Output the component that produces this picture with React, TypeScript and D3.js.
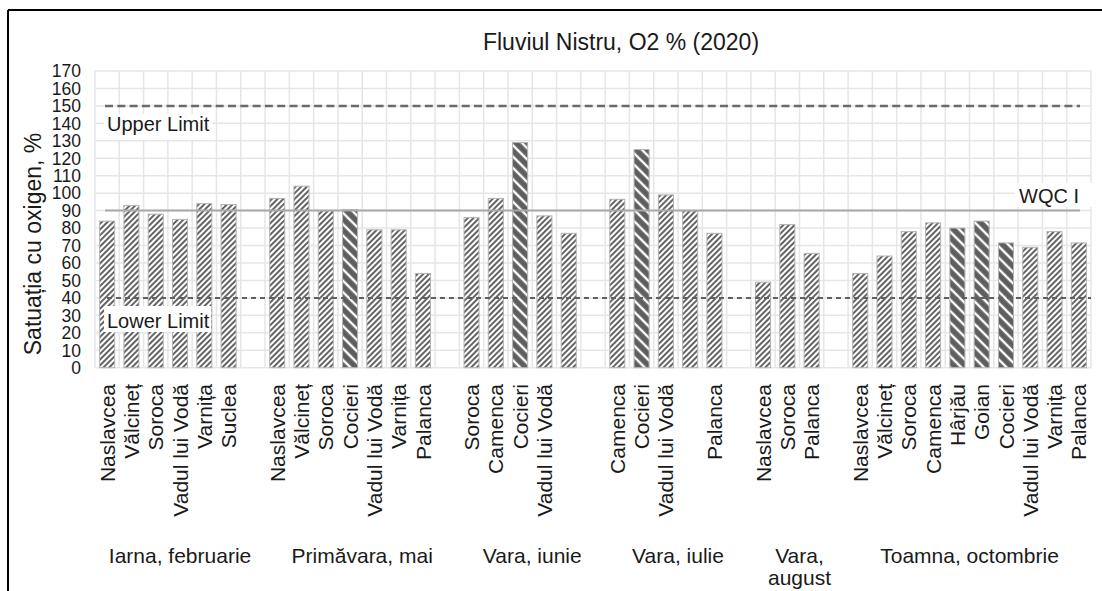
import * as d3 from 'd3'

const title = 'Fluviul Nistru, O2 % (2020)'
const yLabel = 'Satuația cu oxigen, %'

// seasons (sampling campaigns), each followed by an empty slot except the last
const groups = ['Iarna, februarie', 'Primăvara, mai', 'Vara, iunie', 'Vara, iulie', 'Vara, august', 'Toamna, octombrie']

const stations = [
  ['Naslavcea', 'Vălcineț', 'Soroca', 'Vadul lui Vodă', 'Varnița', 'Suclea'],
  ['Naslavcea', 'Vălcineț', 'Soroca', 'Cocieri', 'Vadul lui Vodă', 'Varnița', 'Palanca'],
  ['Soroca', 'Camenca', 'Cocieri', 'Vadul lui Vodă', ''],
  ['Camenca', 'Cocieri', 'Vadul lui Vodă', '', 'Palanca'],
  ['Naslavcea', 'Soroca', 'Palanca'],
  ['Naslavcea', 'Vălcineț', 'Soroca', 'Camenca', 'Hârjău', 'Goian', 'Cocieri', 'Vadul lui Vodă', 'Varnița', 'Palanca'],
]

const values = [
  [84, 93, 88, 85, 94, 93.5],
  [97, 104, 90, 90.5, 79, 79, 54],
  [86, 97, 129, 87, 77],
  [96.5, 125, 99, 90, 77],
  [49, 82, 65.5],
  [54, 64, 78, 83, 80, 84, 71.5, 69, 78, 71.5],
]

// bars drawn with the dark wide hatch
const darkStations = ['Cocieri', 'Hârjău', 'Goian']

const yTicks = d3.range(0, 171, 10)
const upperLimit = 150
const lowerLimit = 40
const wqc = 90

const W = 1102
const H = 591
const left = 95
const right = 1091
const top = 71
const bottom = 367.7

export default function App() {
  // flatten into slots, with a gap after every group but the last
  const slots: { label: string; value: number | null; group: number; dark: boolean }[] = []
  groups.forEach((g, gi) => {
    stations[gi].forEach((s, i) => {
      slots.push({ label: s, value: values[gi][i], group: gi, dark: darkStations.includes(s) })
    })
    if (gi < groups.length - 1) slots.push({ label: '', value: null, group: gi, dark: false })
  })

  const x = d3.scaleBand<number>()
    .domain(slots.map((_, i) => i))
    .range([left, right])
    .paddingInner(0.38)
    .paddingOuter(0.19)
  const step = x.step()
  const y = d3.scaleLinear().domain([0, 170]).range([bottom, top])

  const font = 'Arial, "Liberation Sans", sans-serif'

  // group label centres span the group incl. its trailing gap
  const groupSpans = groups.map((g, gi) => {
    const idx = slots.map((s, i) => (s.group === gi ? i : -1)).filter(i => i >= 0)
    const x0 = left + idx[0] * step
    const x1 = left + (idx[idx.length - 1] + 1) * step
    return { name: g, cx: (x0 + x1) / 2 }
  })

  return (
    <svg width={W} height={H} style={{ position: 'absolute', left: 0, top: 0, background: '#fff' }} fontFamily={font}>
      <defs>
        <pattern id="light" width="4" height="4" patternUnits="userSpaceOnUse" patternTransform="rotate(45)">
          <rect width="4" height="4" fill="#fff" />
          <line x1="1" y1="0" x2="1" y2="4" stroke="#5c5c5c" strokeWidth="1.9" />
        </pattern>
        <pattern id="dark" width="8" height="8" patternUnits="userSpaceOnUse" patternTransform="rotate(-45)">
          <rect width="8" height="8" fill="#5e5e5e" />
          <line x1="4" y1="0" x2="4" y2="8" stroke="#fff" strokeWidth="2.4" />
        </pattern>
      </defs>

      {/* frame */}
      <line x1={8} y1={10} x2={W} y2={10} stroke="#000" strokeWidth={2} />
      <line x1={8} y1={10} x2={8} y2={H} stroke="#000" strokeWidth={2} />

      <text x={621} y={50} textAnchor="middle" fontSize={23} fill="#1a1a1a">{title}</text>

      {/* grid */}
      {yTicks.map(t => (
        <line key={'h' + t} x1={left} x2={right} y1={y(t)} y2={y(t)} stroke="#e6e6e6" strokeWidth={1.5} />
      ))}
      {d3.range(slots.length + 1).map(i => (
        <line key={'v' + i} x1={left + i * step} x2={left + i * step} y1={y(170)} y2={y(0)} stroke="#e6e6e6" strokeWidth={1.5} />
      ))}

      {/* y axis */}
      {yTicks.map(t => (
        <text key={'t' + t} x={81} y={y(t)} dy="0.36em" textAnchor="end" fontSize={17.5} fill="#1a1a1a">{t}</text>
      ))}
      <text transform={`translate(41,244) rotate(-90)`} textAnchor="middle" fontSize={23} fill="#1a1a1a">{yLabel}</text>

      {/* bars */}
      {slots.map((s, i) => s.value === null ? null : (
        <rect key={'b' + i} x={x(i)} y={y(s.value)} width={x.bandwidth()} height={y(0) - y(s.value)}
          fill={s.dark ? 'url(#dark)' : 'url(#light)'} stroke="#b4b4b4" strokeWidth={1} />
      ))}

      {/* reference lines */}
      <line x1={left + 10} x2={right - 11} y1={y(wqc)} y2={y(wqc)} stroke="#a8a8a8" strokeWidth={2} />
      <line x1={left + 10} x2={right - 11} y1={y(upperLimit)} y2={y(upperLimit)} stroke="#6a6a6a" strokeWidth={2.5} strokeDasharray="8,4.3" />
      <line x1={left + 12} x2={right} y1={y(lowerLimit)} y2={y(lowerLimit)} stroke="#606060" strokeWidth={2} strokeDasharray="5,4" />

      <rect x={104} y={y(upperLimit) + 8} width={108} height={26} fill="#fff" />
      <text x={107} y={131} fontSize={20} fill="#1a1a1a">Upper Limit</text>
      <rect x={104} y={306} width={107} height={26} fill="#fff" />
      <text x={107} y={327.5} fontSize={20} fill="#1a1a1a">Lower Limit</text>
      <rect x={1014} y={183} width={78} height={24} fill="#fff" />
      <text x={1019} y={202.5} fontSize={20} fill="#1a1a1a">WQC I</text>

      {/* station labels */}
      {slots.map((s, i) => s.label ? (
        <text key={'l' + i} transform={`translate(${x(i)! + x.bandwidth() / 2},384) rotate(-90)`}
          textAnchor="end" dy="0.36em" fontSize={21} fill="#1a1a1a">{s.label}</text>
      ) : null)}

      {/* group labels */}
      {groupSpans.map(g => {
        const lines = g.name === 'Vara, august' ? ['Vara,', 'august'] : [g.name]
        return (
          <text key={g.name} x={g.cx} y={563} textAnchor="middle" fontSize={21} fill="#1a1a1a">
            {lines.map((l, k) => <tspan key={k} x={g.cx} dy={k === 0 ? 0 : 22}>{l}</tspan>)}
          </text>
        )
      })}
    </svg>
  )
}
